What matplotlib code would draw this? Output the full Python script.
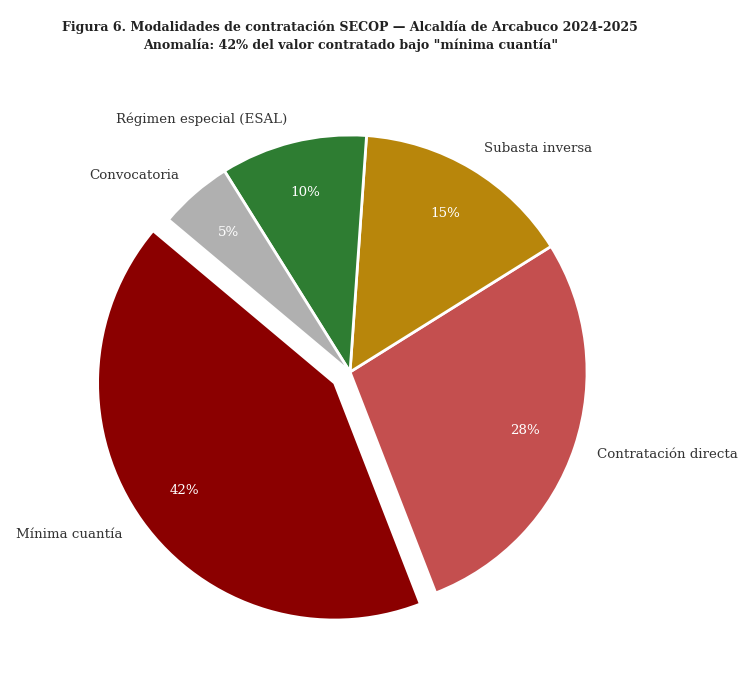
import matplotlib
matplotlib.use("Agg")
import matplotlib.pyplot as plt

plt.rcParams['font.family'] = ['DejaVu Serif']

labels = ["Mínima cuantía", "Contratación directa", "Subasta inversa",
          "Régimen especial (ESAL)", "Convocatoria"]
shares = [42, 28, 15, 10, 5]
colors = ["#8B0000", "#C44F4F", "#B8860B", "#2E7D32", "#B0B0B0"]
explode = [0.08, 0, 0, 0, 0]

fig = plt.figure(figsize=(7.5, 6.94), dpi=100)
ax = fig.add_axes([0.0717, 0.0371, 0.79, 0.8538])

wedges, texts, autotexts = ax.pie(
    shares, labels=labels, colors=colors, explode=explode,
    startangle=140, autopct="%1.0f%%", pctdistance=0.78, labeldistance=1.1,
    wedgeprops=dict(edgecolor="white", linewidth=2),
    textprops=dict(fontsize=9.6, color="#333333"))
for t in autotexts:
    t.set_color("white")
    t.set_fontsize(9.6)

fig.text(0.467, 0.971, "Figura 6. Modalidades de contratación SECOP — Alcaldía de Arcabuco 2024-2025\n"
         "Anomalía: 42% del valor contratado bajo \"mínima cuantía\"",
         ha="center", va="top", fontsize=9.1, fontweight="bold", color="#222222",
         linespacing=1.45)

fig.savefig("out.png", dpi=100)
